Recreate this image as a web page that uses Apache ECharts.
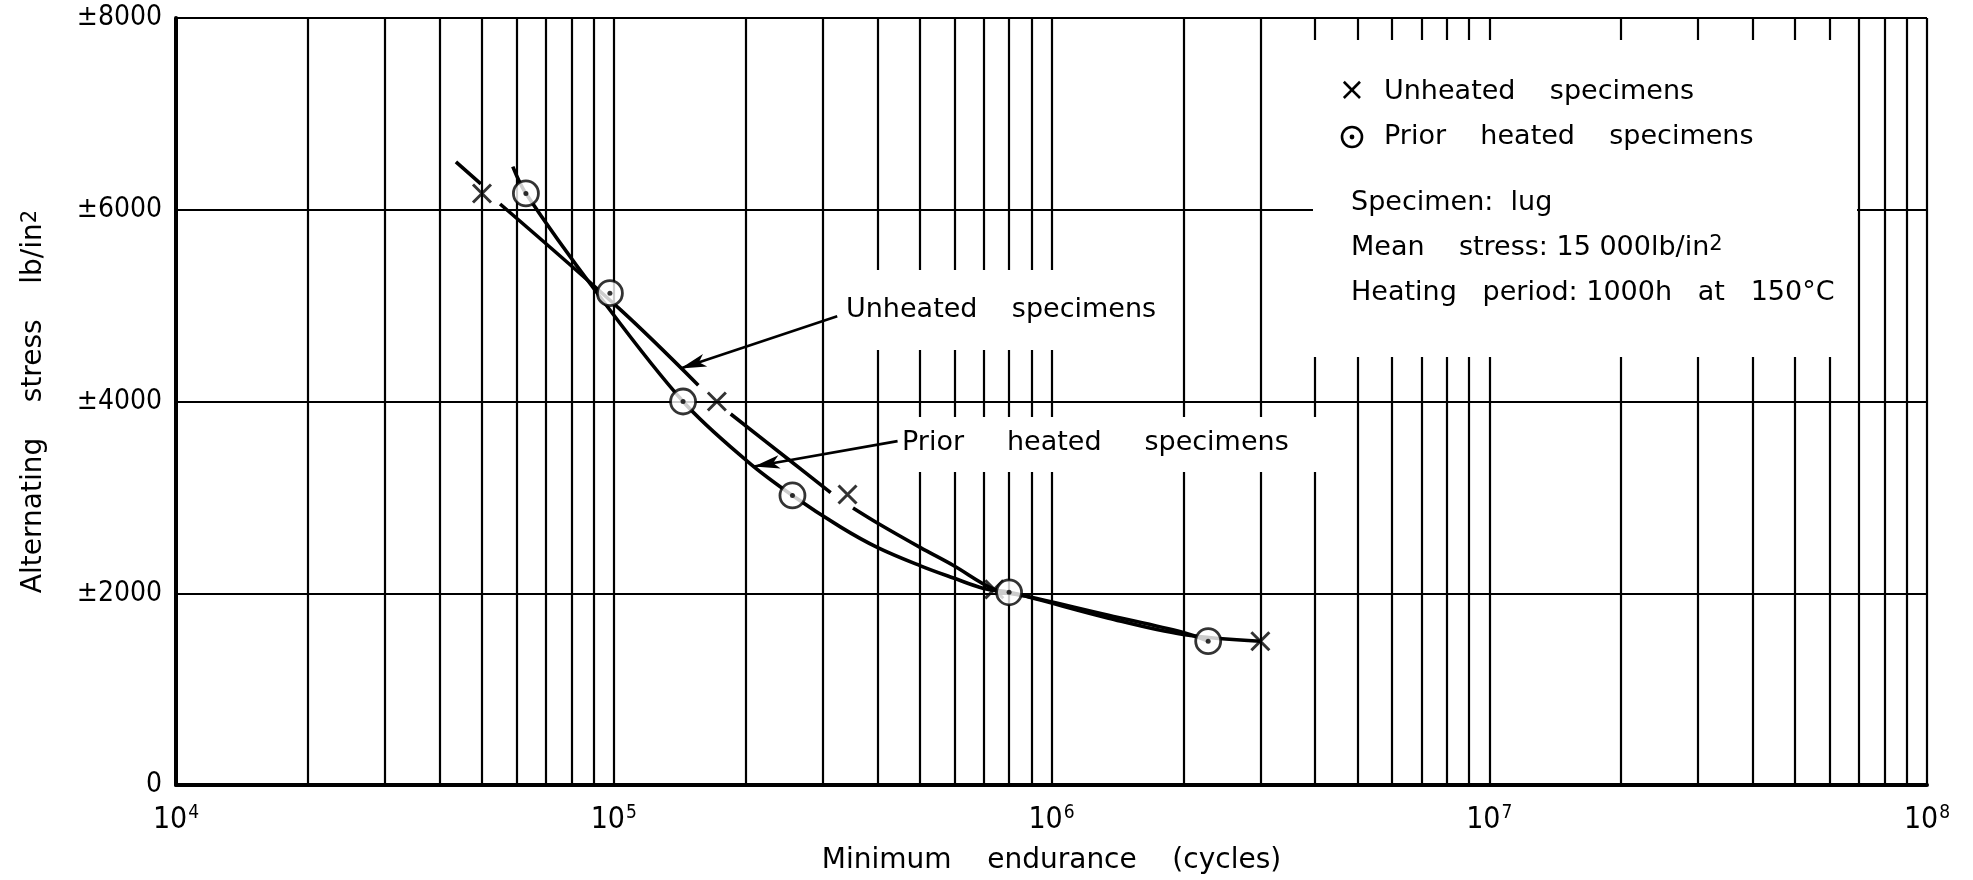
<!DOCTYPE html>
<html><head><meta charset="utf-8">
<script src="https://cdn.jsdelivr.net/npm/echarts@6/dist/echarts.min.js"></script>
<style>html,body{margin:0;padding:0;background:#fff}#c{width:1973px;height:880px}</style>
</head><body><div id="c"></div>
<script>
// ---- data ----
const unheatedCycles = [5.0e4, 1.72e5, 3.42e5, 7.4e5, 3.0e6];
const unheatedStress = [6170, 4000, 3030, 2040, 1500];
const heatedCycles = [6.3e4, 9.8e4, 1.44e5, 2.56e5, 8.0e5, 2.28e6];
const heatedStress = [6170, 5130, 4000, 3020, 2010, 1500];
// fitted curves as drawn (null = break in the drawn line)
const unheatedCurveCycles = [4.36e4, 4.97e4, null, 5.5e4, 1.04e5, 1.56e5, null, 1.85e5, 2.5e5, 3.13e5, null, 3.52e5, 4.01e5, 5.02e5, 5.97e5, 7.4e5, 8.7e5, 1.35e6, 2.0e6, 3.0e6];
const unheatedCurveStress = [6500, 6270, null, 6060, 4950, 4170, null, 3870, 3400, 3050, null, 2889, 2730, 2476, 2290, 2040, 1970, 1740, 1570, 1500];
const heatedCurveCycles = [5.88e4, 6.3e4, 9.1e4, 1.44e5, 2.02e5, 2.56e5, 3.30e5, 4.01e5, 5.02e5, 5.97e5, 7.0e5, 8.0e5, 1.35e6, 2.0e6, 2.28e6];
const heatedCurveStress = [6450, 6170, 5150, 4000, 3376, 3020, 2690, 2476, 2286, 2159, 2050, 2010, 1770, 1590, 1500];
// axes
const xDecades = [4, 5, 6, 7, 8];
const yTicks = [0, 2000, 4000, 6000, 8000];
const yTickLabels = ['0', '\u00b12000', '\u00b14000', '\u00b16000', '\u00b18000'];
const minorMultipliers = [2, 3, 4, 5, 6, 7, 8, 9];
// annotations (label arrows, data coordinates)
const unheatedArrow = [[3.24e5, 4890], [1.42e5, 4345]];
const heatedArrow = [[4.45e5, 3587], [2.09e5, 3323]];

const pairs = (xs, ys) => xs.map((x, i) => x == null ? ['-', '-'] : [x, ys[i]]);
const FONT = '"DejaVu Sans", sans-serif';
const COND = '"DejaVu Sans Condensed", "DejaVu Sans", sans-serif';

const minorLines = [];
xDecades.slice(0, -1).forEach(d => minorMultipliers.forEach(m => minorLines.push({ xAxis: m * Math.pow(10, d) })));

const txt = (x, y, text, extra) => Object.assign({
  type: 'text', z: 101, x: x, y: y,
  style: Object.assign({ text: text, fontFamily: FONT, fontSize: 27, fill: '#000', verticalAlign: 'middle' }, extra || {})
});

const chart = echarts.init(document.getElementById('c'), null, { renderer: 'canvas' });
chart.setOption({
  backgroundColor: '#fff',
  animation: false,
  grid: { left: 176, right: 46, top: 18, bottom: 93, containLabel: false },
  xAxis: {
    type: 'log', logBase: 10, min: Math.pow(10, xDecades[0]), max: Math.pow(10, xDecades[xDecades.length - 1]),
    splitNumber: 4,
    name: 'Minimum    endurance    (cycles)', nameLocation: 'middle', nameGap: 62,
    nameTextStyle: { fontFamily: FONT, fontSize: 28, color: '#000' },
    axisLine: { show: true, lineStyle: { color: '#000', width: 4 } },
    axisTick: { show: false },
    axisLabel: {
      margin: 19, color: '#000', fontFamily: COND, fontSize: 30, lineHeight: 32,
      formatter: v => '10{s|' + Math.round(Math.log10(v)) + '}',
      rich: { s: { fontFamily: COND, fontSize: 19, verticalAlign: 'top', lineHeight: 19, padding: [0, 0, 0, 1] } }
    },
    splitLine: { show: true, lineStyle: { color: '#000', width: 2.2 } }
  },
  yAxis: {
    type: 'value', min: yTicks[0], max: yTicks[yTicks.length - 1], interval: yTicks[1] - yTicks[0],
    name: 'Alternating    stress    lb/in{s|2}', nameLocation: 'middle', nameGap: 128,
    nameTextStyle: { fontFamily: FONT, fontSize: 28, color: '#000',
      rich: { s: { fontFamily: FONT, fontSize: 21, verticalAlign: 'top', lineHeight: 21 } } },
    axisLine: { show: true, lineStyle: { color: '#000', width: 4 } },
    axisTick: { show: false },
    axisLabel: {
      margin: 14, color: '#000', fontFamily: COND, fontSize: 28,
      formatter: v => yTickLabels[yTicks.indexOf(v)]
    },
    splitLine: { show: true, lineStyle: { color: '#000', width: 2.2 } }
  },
  series: [
    {
      name: 'grid', type: 'line', data: [[1e4, 0]], showSymbol: false, symbol: 'none',
      lineStyle: { width: 0 }, silent: true, z: 1,
      markLine: {
        silent: true, symbol: ['none', 'none'], label: { show: false },
        lineStyle: { color: '#000', width: 2.2, type: 'solid' },
        emphasis: { disabled: true },
        data: minorLines
      }
    },
    {
      name: 'Unheated curve', type: 'line', data: pairs(unheatedCurveCycles, unheatedCurveStress),
      smooth: 0.35, connectNulls: false, showSymbol: false, symbol: 'none',
      lineStyle: { color: '#000', width: 3.6 }, z: 3,
      markLine: {
        silent: true, symbol: ['none', 'arrow'], symbolSize: [10, 26], label: { show: false },
        lineStyle: { color: '#000', width: 2.6, type: 'solid' },
        data: [
          [{ coord: unheatedArrow[0] }, { coord: unheatedArrow[1] }],
          [{ coord: heatedArrow[0] }, { coord: heatedArrow[1] }]
        ]
      }
    },
    {
      name: 'Prior heated curve', type: 'line', data: pairs(heatedCurveCycles, heatedCurveStress),
      smooth: 0.35, showSymbol: false, symbol: 'none',
      lineStyle: { color: '#000', width: 3.6 }, z: 3
    },
    {
      name: 'Unheated specimens', type: 'scatter', data: pairs(unheatedCycles, unheatedStress),
      symbol: 'path://M0,0L10,10M10,0L0,10', symbolSize: 18,
      itemStyle: { color: 'rgba(0,0,0,0)', borderColor: '#000', borderWidth: 3 }, z: 5
    },
    {
      name: 'Prior heated specimens', type: 'scatter', data: pairs(heatedCycles, heatedStress),
      symbol: 'circle', symbolSize: 25,
      itemStyle: { color: '#fff', borderColor: '#000', borderWidth: 2.8 }, z: 6
    },
    {
      name: 'Prior heated centre', type: 'scatter', data: pairs(heatedCycles, heatedStress),
      symbol: 'circle', symbolSize: 5,
      itemStyle: { color: '#000' }, z: 7
    }
  ],
  graphic: [
    { type: 'rect', z: 100, shape: { x: 1313, y: 40, width: 544, height: 317 }, style: { fill: '#fff' } },
    { type: 'rect', z: 100, shape: { x: 842, y: 270, width: 328, height: 80 }, style: { fill: '#fff' } },
    { type: 'rect', z: 100, shape: { x: 902, y: 417, width: 438, height: 55 }, style: { fill: '#fff' } },
    txt(846, 310, 'Unheated    specimens'),
    txt(902, 443, 'Prior     heated     specimens'),
    txt(1352, 92, '\u00d7', { fontSize: 32, align: 'center' }),
    { type: 'circle', z: 101, shape: { cx: 1352, cy: 137, r: 10 }, style: { fill: '#fff', stroke: '#000', lineWidth: 2.6 } },
    { type: 'circle', z: 102, shape: { cx: 1352, cy: 137, r: 2.4 }, style: { fill: '#000' } },
    txt(1384, 92, 'Unheated    specimens'),
    txt(1384, 137, 'Prior    heated    specimens'),
    txt(1351, 203, 'Specimen:  lug'),
    txt(1351, 248, 'Mean    stress: 15 000lb/in{s|2}', { rich: { s: { fontFamily: FONT, fontSize: 21, verticalAlign: 'top', lineHeight: 21 } } }),
    txt(1351, 293, 'Heating   period: 1000h   at   150\u00b0C')
  ]
});
</script></body></html>
